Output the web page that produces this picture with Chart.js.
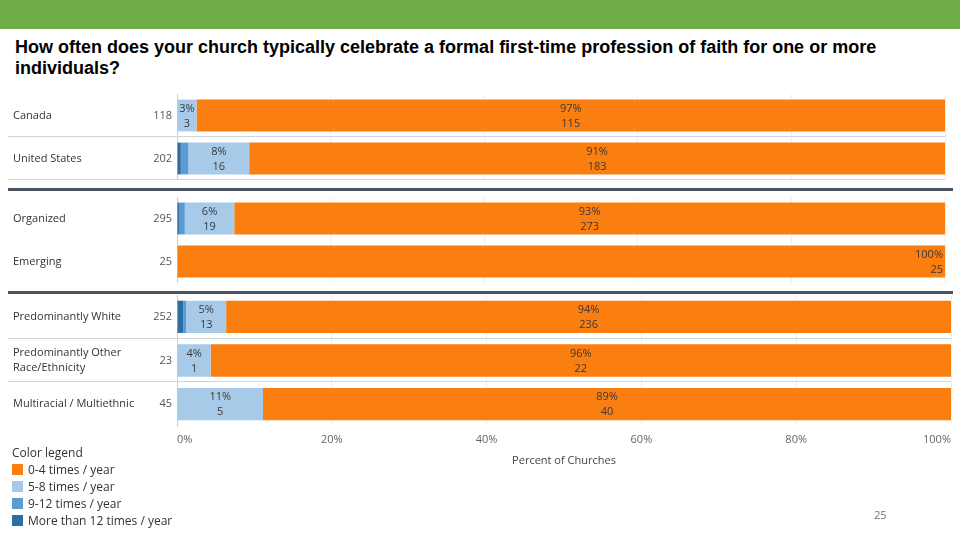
<!DOCTYPE html>
<html>
<head>
<meta charset="utf-8">
<script src="https://cdn.jsdelivr.net/npm/chart.js@4/dist/chart.umd.min.js"></script>
<style>
  body { margin: 0; width: 960px; height: 540px; background: #fff; position: relative; overflow: hidden; font-family: "Open Sans", sans-serif; }
  .band { position: absolute; left: 0; top: 0; width: 960px; height: 29px; background: #70ad47; }
  .title { position: absolute; left: 15px; top: 37px; width: 880px; font: bold 18px "Liberation Sans", Arial, sans-serif; line-height: 21px; color: #000; }
  canvas { position: absolute; left: 0; }
  .sep { position: absolute; left: 8px; width: 945px; height: 3px; background: #4b5561; }
  .legend { position: absolute; left: 12px; top: 444px; font-size: 12px; color: #333; line-height: 17px; }
  .legend .sw { display: inline-block; width: 11px; height: 11px; margin-right: 5px; vertical-align: -1px; }
  .page { position: absolute; left: 874px; top: 507px; font-size: 11px; color: #777; }
</style>
</head>
<body>
<div class="band"></div>
<div class="title">How often does your church typically celebrate a formal first-time profession of faith for one or more individuals?</div>

<canvas id="panel1" width="960" height="86" style="top:94px"></canvas>
<div class="sep" style="top:188px"></div>
<canvas id="panel2" width="960" height="86" style="top:197px"></canvas>
<div class="sep" style="top:291px"></div>
<canvas id="panel3" width="960" height="175" style="top:295px"></canvas>

<div class="legend" id="legend"></div>
<div class="page">25</div>

<script>
// rows of the dashboard
const categories = ["Canada", "United States", "Organized", "Emerging", "Predominantly White",
  ["Predominantly Other", "Race/Ethnicity"], "Multiracial / Multiethnic"];
const respondents = [118, 202, 295, 25, 252, 23, 45];

// number of churches per answer
const moreThan12 = [0, 1, 1, 0, 2, 0, 0];
const times9to12 = [0, 2, 2, 0, 1, 0, 0];
const times5to8 = [3, 16, 19, 0, 13, 1, 5];
const times0to4 = [115, 183, 273, 25, 236, 22, 40];

const xTicks = [0, 20, 40, 60, 80, 100];

const series = [
  { label: "More than 12 times / year", counts: moreThan12, color: "#2a6ea6", showValues: false },
  { label: "9-12 times / year", counts: times9to12, color: "#5b9bd0", showValues: false },
  { label: "5-8 times / year", counts: times5to8, color: "#a7cae8", showValues: true },
  { label: "0-4 times / year", counts: times0to4, color: "#fb7e10", showValues: true },
];

const font = "Open Sans";

// names on the left, counts come from the y ticks
const namesPlugin = {
  id: "names",
  afterDraw(chart) {
    const ctx = chart.ctx;
    const y = chart.scales.y;
    ctx.save();
    ctx.fillStyle = "#333";
    ctx.font = "11px " + font;
    ctx.textAlign = "left";
    ctx.textBaseline = "middle";
    chart.data.labels.forEach((name, i) => {
      const py = y.getPixelForTick(i);
      const lines = Array.isArray(name) ? name : [name];
      lines.forEach((t, k) => {
        ctx.fillText(t, 13, py + (k - (lines.length - 1) / 2) * 15);
      });
    });
    ctx.restore();
  },
};

// thin lines between rows
const rowLinesPlugin = {
  id: "rowLines",
  beforeDatasetsDraw(chart, args, opts) {
    if (!opts.mode || opts.mode === "none") return;
    const ctx = chart.ctx;
    const y = chart.scales.y;
    const n = chart.data.labels.length;
    const step = n > 1 ? y.getPixelForTick(1) - y.getPixelForTick(0) : 0;
    ctx.save();
    ctx.strokeStyle = "#cfd4da";
    ctx.lineWidth = 1;
    const last = opts.mode === "all" ? n : n - 1;
    for (let i = 0; i < last; i++) {
      const py = Math.round(y.getPixelForTick(i) + step / 2) - 0.5;
      ctx.beginPath();
      ctx.moveTo(8, py);
      ctx.lineTo(chart.chartArea.right, py);
      ctx.stroke();
    }
    ctx.restore();
  },
};

// percent and count inside the bars
const valuesPlugin = {
  id: "values",
  afterDatasetsDraw(chart) {
    const ctx = chart.ctx;
    ctx.save();
    ctx.font = "11px " + font;
    ctx.fillStyle = "#3a3a3a";
    ctx.textBaseline = "middle";
    chart.data.datasets.forEach((ds, d) => {
      if (!ds.showValues) return;
      chart.getDatasetMeta(d).data.forEach((bar, i) => {
        const count = ds.counts[i];
        if (!count) return;
        const pct = Math.round(ds.data[i]);
        let x = (bar.x + bar.base) / 2;
        ctx.textAlign = "center";
        if (pct === 100) {
          x = bar.x - 2;
          ctx.textAlign = "right";
        }
        ctx.fillText(pct + "%", x, bar.y - 7);
        ctx.fillText(String(count), x, bar.y + 8);
      });
    });
    ctx.restore();
  },
};

function makePanel(id, from, to, opts) {
  const idx = [];
  for (let i = from; i < to; i++) idx.push(i);
  const counts = idx.map((i) => respondents[i]);
  return new Chart(document.getElementById(id), {
    type: "bar",
    data: {
      labels: idx.map((i) => categories[i]),
      datasets: series.map((s) => ({
        label: s.label,
        counts: idx.map((i) => s.counts[i]),
        data: idx.map((i) => (s.counts[i] / respondents[i]) * 100),
        backgroundColor: s.color,
        showValues: s.showValues,
        barPercentage: 0.74,
        categoryPercentage: 1,
      })),
    },
    options: {
      indexAxis: "y",
      responsive: false,
      animation: false,
      layout: { autoPadding: false, padding: { left: 0, right: opts.right, top: 0, bottom: 0 } },
      plugins: {
        legend: { display: false },
        tooltip: { enabled: false },
        rowLines: { mode: opts.rowLines },
      },
      scales: {
        x: {
          stacked: true,
          min: 0,
          max: 100,
          afterBuildTicks: (scale) => {
            scale.ticks = xTicks.map((v) => ({ value: v }));
          },
          afterFit: (scale) => {
            scale.height = opts.showAxis ? 44 : 0;
            scale.paddingLeft = 0;
            scale.paddingRight = 0;
          },
          grid: { color: "#efefef", drawTicks: false },
          border: { display: false },
          ticks: {
            display: opts.showAxis,
            align: "inner",
            padding: 7,
            color: "#666",
            font: { family: font, size: 11 },
            callback: (v) => v + "%",
          },
          title: {
            display: opts.showAxis,
            text: "Percent of Churches",
            color: "#444",
            font: { family: font, size: 11 },
            padding: { top: 4, bottom: 3 },
          },
        },
        y: {
          stacked: true,
          afterFit: (scale) => {
            scale.width = 177;
            scale.paddingTop = 0;
            scale.paddingBottom = 0;
          },
          grid: { display: false, drawTicks: false },
          border: { display: true, color: "#cccccc" },
          ticks: {
            color: "#555",
            padding: 5,
            font: { family: font, size: 11 },
            callback: (v, i) => counts[i],
          },
        },
      },
    },
    plugins: [namesPlugin, rowLinesPlugin, valuesPlugin],
  });
}

makePanel("panel1", 0, 2, { right: 15, rowLines: "all", showAxis: false });
makePanel("panel2", 2, 4, { right: 15, rowLines: "none", showAxis: false });
makePanel("panel3", 4, 7, { right: 9, rowLines: "between", showAxis: true });

// legend card, same order as the reference
const legend = document.getElementById("legend");
legend.innerHTML = '<div style="font-size:12px;color:#333">Color legend</div>' +
  [series[3], series[2], series[1], series[0]]
    .map((s) => `<div><span class="sw" style="background:${s.color}"></span>${s.label}</div>`)
    .join("");
</script>
</body>
</html>
